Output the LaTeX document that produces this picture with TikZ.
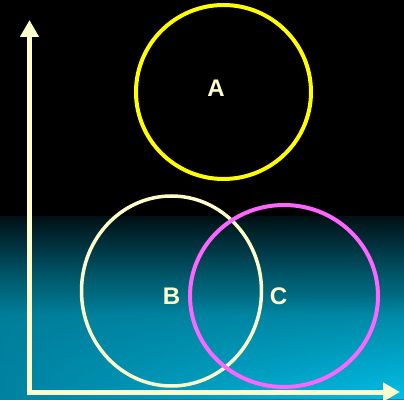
\documentclass[tikz,border=0pt]{standalone}
\usepackage{fontspec}
\setmainfont{Liberation Sans}
\usetikzlibrary{shapes.geometric,fadings,arrows.meta}
\definecolor{cream}{RGB}{255,255,204}
\definecolor{ayel}{RGB}{255,255,0}
\definecolor{cmag}{RGB}{255,102,255}
\definecolor{g0}{RGB}{0,18,22}
\definecolor{g1}{RGB}{0,50,62}
\definecolor{g2}{RGB}{0,92,112}
\definecolor{g3}{RGB}{0,125,152}
\definecolor{g4}{RGB}{0,130,160}
\definecolor{gright}{RGB}{0,190,230}
\pgfdeclareverticalshading{bgsh}{100bp}{color(0bp)=(g4); color(25bp)=(g4); color(48bp)=(g3); color(57.7bp)=(g2); color(67.3bp)=(g1); color(75bp)=(g0); color(100bp)=(g0)}
\begin{document}
\begin{tikzpicture}[x=1pt,y=1pt,
  ring/.style={ellipse, draw, inner sep=0pt, line width=4pt},
  lab/.style={text=cream, font=\bfseries\fontsize{24}{24}\selectfont, inner sep=0pt},
  axis/.style={draw=cream, line width=5pt, line join=miter,
    {Triangle[length=17pt,width=18pt]}-{Triangle[length=17pt,width=18pt]}}]
\useasboundingbox (0,0) rectangle (404,399);
\fill[black] (0,0) rectangle (404,399);
\shade[shading=bgsh] (0,0) rectangle (404,182);
\shade[left color=g4, right color=gright, path fading=north] (0,0) rectangle (404,105);
% axes
\coordinate (o) at (29.5,7);
\coordinate (xend) at (400,7);
\coordinate (yend) at (29.5,379);
\draw[axis] (yend) -- (o) -- (xend);
% circles
\node[ring, draw=ayel, minimum width=175pt, minimum height=174pt] (A) at (223.5,307) {};
\node[ring, draw=cream, line width=3.5pt, minimum width=180pt, minimum height=190pt] (B) at (171.5,108) {};
\node[ring, draw=cmag, minimum width=188pt, minimum height=182pt] (C) at (284,103) {};
% labels
\node[lab] (la) at (216,311) {A};
\node[lab] (lb) at (171.5,103) {B};
\node[lab] (lc) at (278.5,103) {C};
\end{tikzpicture}
\end{document}
